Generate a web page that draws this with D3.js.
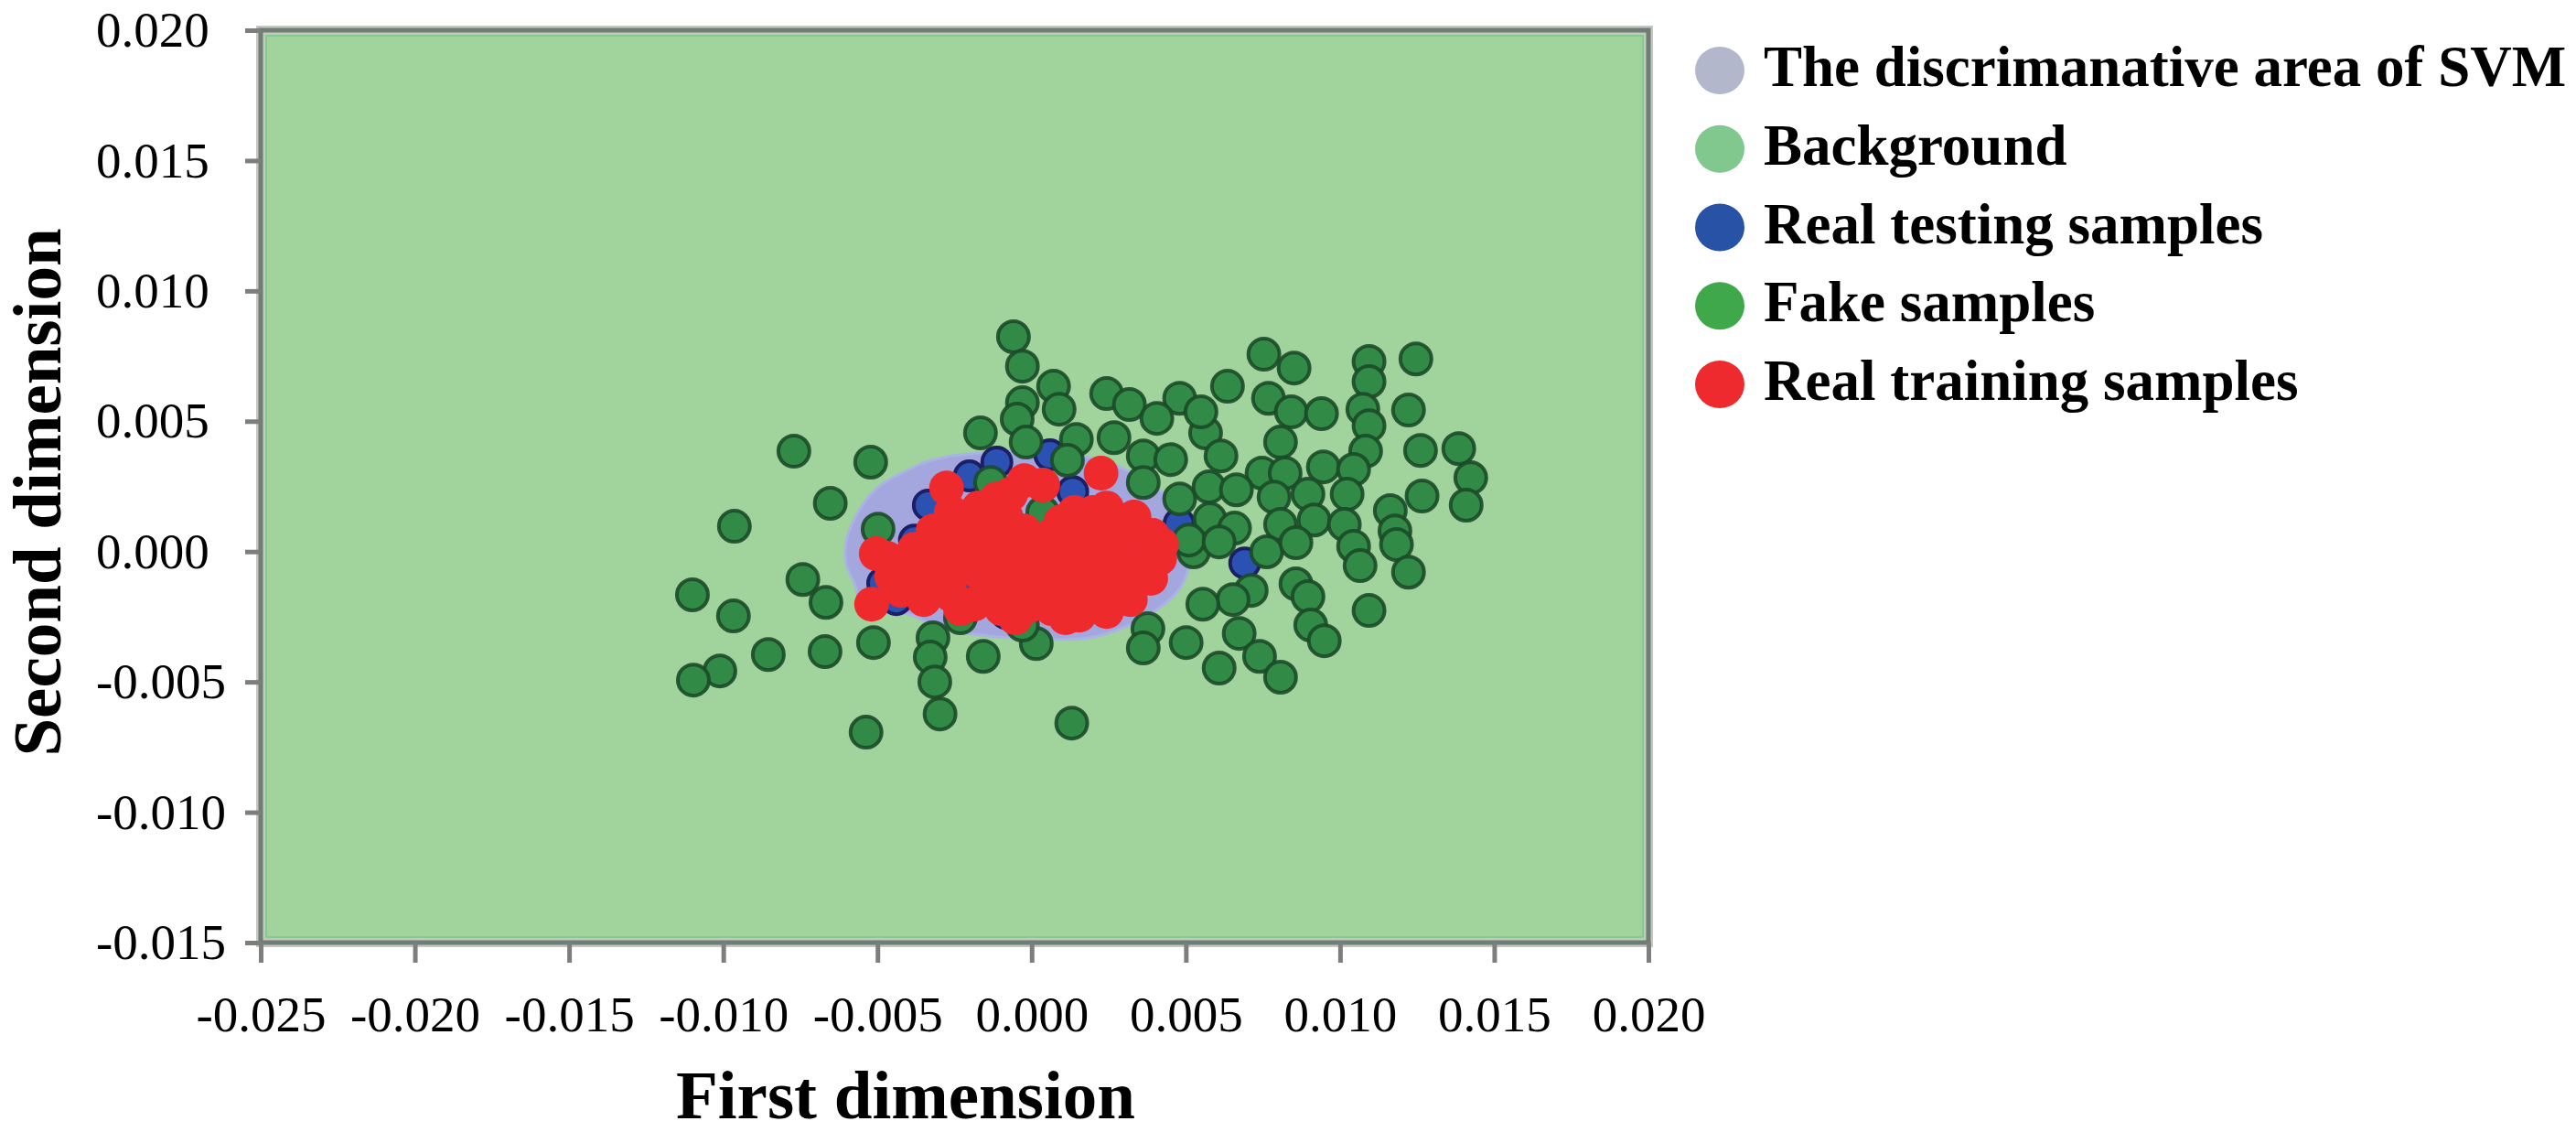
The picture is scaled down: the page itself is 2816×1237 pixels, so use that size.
<!DOCTYPE html>
<html>
<head>
<meta charset="utf-8">
<script src="https://cdn.jsdelivr.net/npm/d3@7"></script>
<style>
  html, body { margin: 0; padding: 0; background: #ffffff; }
  svg { display: block; }
  text { font-family: "Liberation Serif", "Times New Roman", serif; fill: #000; }
</style>
</head>
<body>
<svg id="chart" width="2816" height="1237"></svg>
<script>
// ---------------- data ----------------
const xTicks = [-0.025, -0.020, -0.015, -0.010, -0.005, 0.000, 0.005, 0.010, 0.015, 0.020];
const yTicks = [-0.015, -0.010, -0.005, 0.000, 0.005, 0.010, 0.015, 0.020];
const xTitle = "First dimension";
const yTitle = "Second dimension";
const legendLabels = ["The discrimanative area of SVM", "Background", "Real testing samples", "Fake samples", "Real training samples"];

// Outline of the SVM discriminative area (first dim, second dim)
const svmArea = [
  [-0.00602, 0.00034], [-0.00572, 0.00132], [-0.00501, 0.00244], [-0.00409, 0.00308],
  [-0.00344, 0.00343], [-0.00261, 0.00367], [-0.00172, 0.00378], [-0.00053, 0.00388],
  [0.00095, 0.00378], [0.00243, 0.00343], [0.00392, 0.00255], [0.00486, 0.00150],
  [0.00516, 0.00009], [0.00486, -0.00131], [0.00397, -0.00230], [0.00303, -0.00289],
  [0.00184, -0.00331], [0.00006, -0.00335], [-0.00202, -0.00314], [-0.00320, -0.00279],
  [-0.00409, -0.00237], [-0.00543, -0.00230], [-0.00572, -0.00131], [-0.00602, -0.00044]
];

// Real testing samples
const realTesting = [
  [-0.00335, 0.00178], [-0.00202, 0.00290], [-0.00113, 0.00343], [0.00059, 0.00371],
  [0.00133, 0.00230], [0.00478, 0.00107], [0.00691, -0.00044], [-0.00024, -0.00061],
  [0.00332, -0.00008], [0.00308, -0.00131], [-0.00483, -0.00121], [-0.00439, -0.00184],
  [-0.00380, 0.00044], [-0.00202, -0.00131], [0.00154, -0.00202], [-0.00083, -0.00237],
  [0.00214, 0.00044]
];

// Fake samples
const fakeSamples = [
  [-0.00059, 0.00824], [-0.00030, 0.00711], [0.00071, 0.00634], [-0.00030, 0.00571],
  [0.00089, 0.00546], [-0.00047, 0.00508], [-0.00166, 0.00455], [-0.00018, 0.00420],
  [0.00145, 0.00430], [0.00116, 0.00350], [-0.00771, 0.00385], [-0.00522, 0.00343],
  [-0.00653, 0.00185], [-0.00964, 0.00097], [-0.00498, 0.00086], [-0.00133, 0.00265],
  [0.00036, 0.00150], [0.00753, 0.00757], [0.00851, 0.00704], [0.01094, 0.00729],
  [0.01094, 0.00652], [0.01246, 0.00739], [0.00635, 0.00634], [0.00243, 0.00606],
  [0.00317, 0.00564], [0.00480, 0.00588], [0.00406, 0.00511], [0.00768, 0.00588],
  [0.00842, 0.00536], [0.00940, 0.00529], [0.01074, 0.00546], [0.01094, 0.00483],
  [0.01222, 0.00543], [0.00267, 0.00437], [0.00564, 0.00455], [0.00549, 0.00536],
  [0.00807, 0.00420], [0.01083, 0.00385], [0.01261, 0.00388], [0.01385, 0.00395],
  [0.01424, 0.00283], [0.01266, 0.00213], [0.01409, 0.00178], [0.00362, 0.00367],
  [0.00451, 0.00353], [0.00614, 0.00367], [0.00362, 0.00265], [0.00747, 0.00301],
  [0.00822, 0.00301], [0.00946, 0.00325], [0.01044, 0.00315], [0.00480, 0.00202],
  [0.00575, 0.00248], [0.00664, 0.00237], [0.00786, 0.00209], [0.00896, 0.00220],
  [0.01023, 0.00220], [0.01163, 0.00157], [0.00578, 0.00125], [0.00658, 0.00090],
  [0.00807, 0.00104], [0.00916, 0.00121], [0.01014, 0.00104], [0.01178, 0.00079],
  [0.00762, -0.00001], [0.00525, -0.00001], [0.01044, 0.00020], [0.01065, -0.00054],
  [0.01183, 0.00027], [0.01222, -0.00079], [0.00857, -0.00124], [0.00896, -0.00173],
  [0.00712, -0.00149], [0.00653, -0.00184], [0.00555, -0.00202], [0.01094, -0.00226],
  [0.00377, -0.00296], [0.00362, -0.00370], [0.00501, -0.00349], [0.00673, -0.00314],
  [0.00905, -0.00282], [0.00949, -0.00342], [0.00739, -0.00402], [0.00608, -0.00447],
  [0.00807, -0.00482], [-0.01100, -0.00166], [-0.00742, -0.00107], [-0.00667, -0.00195],
  [-0.00967, -0.00247], [-0.00854, -0.00395], [-0.00670, -0.00384], [-0.00513, -0.00349],
  [-0.00320, -0.00331], [-0.00329, -0.00405], [-0.00314, -0.00500], [-0.00297, -0.00623],
  [-0.00157, -0.00402], [0.00015, -0.00353], [-0.00231, -0.00254], [-0.00030, -0.00282],
  [-0.01011, -0.00458], [-0.01097, -0.00493], [-0.00537, -0.00693], [0.00130, -0.00658],
  [0.00510, 0.00044], [0.00608, 0.00037], [0.00857, 0.00034]
];

// Real training samples
const realTraining = [
  [-0.00504, -0.00008], [-0.00519, -0.00202], [-0.00454, -0.00096], [-0.00380, 0.00009],
  [-0.00320, 0.00079], [-0.00276, 0.00244], [-0.00231, 0.00114], [-0.00142, 0.00150],
  [-0.00068, 0.00220], [-0.00024, 0.00272], [0.00036, 0.00255], [0.00225, 0.00301],
  [0.00139, 0.00150], [0.00243, 0.00167], [0.00332, 0.00132], [0.00392, 0.00062],
  [0.00415, -0.00026], [0.00386, -0.00103], [0.00320, -0.00184], [0.00243, -0.00230],
  [0.00154, -0.00244], [0.00065, -0.00219], [-0.00009, -0.00209], [-0.00098, -0.00219],
  [-0.00187, -0.00202], [-0.00261, -0.00166], [-0.00350, -0.00131], [-0.00409, -0.00079],
  [-0.00291, -0.00026], [-0.00202, 0.00009], [-0.00113, 0.00044], [-0.00024, 0.00079],
  [0.00065, 0.00062], [0.00154, 0.00044], [0.00243, 0.00009], [0.00317, -0.00026],
  [-0.00261, -0.00096], [-0.00172, -0.00079], [-0.00083, -0.00061], [0.00006, 0.00009],
  [0.00095, -0.00044], [0.00184, -0.00061], [0.00273, -0.00096], [-0.00142, -0.00149],
  [-0.00053, -0.00149], [0.00036, -0.00131], [0.00125, -0.00149], [0.00214, -0.00149],
  [-0.00202, 0.00079], [-0.00083, 0.00132], [0.00214, 0.00097], [-0.00172, 0.00167],
  [-0.00469, -0.00026], [-0.00424, -0.00149], [-0.00335, 0.00009], [-0.00246, 0.00044],
  [-0.00157, 0.00044], [-0.00068, 0.00009], [0.00050, -0.00008], [0.00139, -0.00026],
  [0.00214, -0.00061], [0.00362, -0.00026], [0.00288, 0.00062], [0.00199, 0.00150],
  [-0.00202, -0.00061], [-0.00113, -0.00114], [-0.00024, -0.00096], [0.00065, -0.00096],
  [0.00154, -0.00114], [0.00258, -0.00166], [-0.00231, -0.00219], [-0.00053, -0.00254],
  [0.00110, -0.00254], [-0.00305, -0.00079], [-0.00142, -0.00026], [-0.00261, 0.00150],
  [0.00095, 0.00114], [-0.00113, 0.00202], [-0.00350, -0.00184], [0.00332, -0.00096],
  [0.00421, 0.00027]
];

// ---------------- layout ----------------
const plot = { left: 285, right: 1802, top: 33, bottom: 1030 };

const svg = d3.select("#chart");
const x = d3.scaleLinear().domain([-0.025, 0.020]).range([plot.left, plot.right]);
const y = d3.scaleLinear().domain([-0.015, 0.020]).range([plot.bottom, plot.top]);

const defs = svg.append("defs");
defs.append("clipPath").attr("id", "plotClip")
  .append("rect")
  .attr("x", plot.left).attr("y", plot.top)
  .attr("width", plot.right - plot.left).attr("height", plot.bottom - plot.top);

// plot background
svg.append("rect")
  .attr("x", plot.left).attr("y", plot.top)
  .attr("width", plot.right - plot.left).attr("height", plot.bottom - plot.top)
  .attr("fill", "#a1d49c");
svg.append("rect")
  .attr("x", plot.left + 5).attr("y", plot.top + 5)
  .attr("width", plot.right - plot.left - 10).attr("height", plot.bottom - plot.top - 10)
  .attr("fill", "none").attr("stroke", "#86c98f").attr("stroke-width", 4);

const g = svg.append("g").attr("clip-path", "url(#plotClip)");

// SVM area
g.append("path")
  .datum(svmArea)
  .attr("d", d3.line().x(d => x(d[0])).y(d => y(d[1])).curve(d3.curveCatmullRomClosed.alpha(0.5)))
  .attr("fill", "#a3a7dd")
  .attr("stroke", "#aab2e6")
  .attr("stroke-width", 3);

// Real testing samples
g.append("g").selectAll("circle").data(realTesting).join("circle")
  .attr("cx", d => x(d[0])).attr("cy", d => y(d[1])).attr("r", 16)
  .attr("fill", "#2b52b3").attr("stroke", "#1d1f66").attr("stroke-width", 4);

// Fake samples
g.append("g").selectAll("circle").data(fakeSamples).join("circle")
  .attr("cx", d => x(d[0])).attr("cy", d => y(d[1])).attr("r", 17)
  .attr("fill", "#318b47").attr("stroke", "#1c4a29").attr("stroke-width", 4).attr("stroke-opacity", 0.9);

// Real training samples
g.append("g").selectAll("circle").data(realTraining).join("circle")
  .attr("cx", d => x(d[0])).attr("cy", d => y(d[1])).attr("r", 19)
  .attr("fill", "#ee2a2d");

// frame
svg.append("rect")
  .attr("x", plot.left).attr("y", plot.top)
  .attr("width", plot.right - plot.left).attr("height", plot.bottom - plot.top)
  .attr("fill", "none").attr("stroke", "#c4c7c4").attr("stroke-width", 10);
svg.append("rect")
  .attr("x", plot.left).attr("y", plot.top)
  .attr("width", plot.right - plot.left).attr("height", plot.bottom - plot.top)
  .attr("fill", "none").attr("stroke", "#6f7d72").attr("stroke-width", 5);

// axes
const fmt = d => d.toFixed(3);
const xAxis = svg.append("g")
  .attr("transform", `translate(0,${plot.bottom})`)
  .call(d3.axisBottom(x).tickValues(xTicks).tickFormat(fmt).tickSize(22).tickSizeOuter(0));
xAxis.select(".domain").remove();
xAxis.selectAll(".tick line").attr("stroke", "#7d7f7d").attr("stroke-width", 5);
xAxis.selectAll(".tick text")
  .attr("y", 58).attr("dy", "0.71em")
  .style("font-family", '"Liberation Serif", "Times New Roman", serif')
  .style("font-size", "55px").attr("fill", "#000");

const yAxis = svg.append("g")
  .attr("transform", `translate(${plot.left},0)`)
  .call(d3.axisLeft(y).tickValues(yTicks).tickFormat(fmt).tickSize(17).tickSizeOuter(0));
yAxis.select(".domain").remove();
yAxis.selectAll(".tick line").attr("stroke", "#7d7f7d").attr("stroke-width", 5);
yAxis.selectAll(".tick text")
  .attr("x", 105 - plot.left).attr("text-anchor", "start")
  .style("font-family", '"Liberation Serif", "Times New Roman", serif')
  .style("font-size", "55px").attr("fill", "#000");

// axis titles
svg.append("text")
  .attr("x", 990).attr("y", 1222)
  .attr("text-anchor", "middle")
  .style("font-size", "75px").style("font-weight", "bold")
  .text(xTitle);
svg.append("text")
  .attr("transform", "translate(66,538) rotate(-90)")
  .attr("text-anchor", "middle")
  .style("font-size", "75px").style("font-weight", "bold")
  .text(yTitle);

// legend
const legendColors = ["#b3b7cc", "#81c88f", "#2852a6", "#3ea84a", "#ee2a2e"];
const lg = svg.append("g").selectAll("g").data(legendLabels).join("g")
  .attr("transform", (d, i) => `translate(1880,${77 + i * 85.75})`);
lg.append("ellipse").attr("rx", 27).attr("ry", 26)
  .attr("fill", (d, i) => legendColors[i]);
lg.append("text")
  .attr("x", 48).attr("y", 17)
  .style("font-size", "63px").style("font-weight", "bold")
  .text(d => d);
</script>
</body>
</html>
